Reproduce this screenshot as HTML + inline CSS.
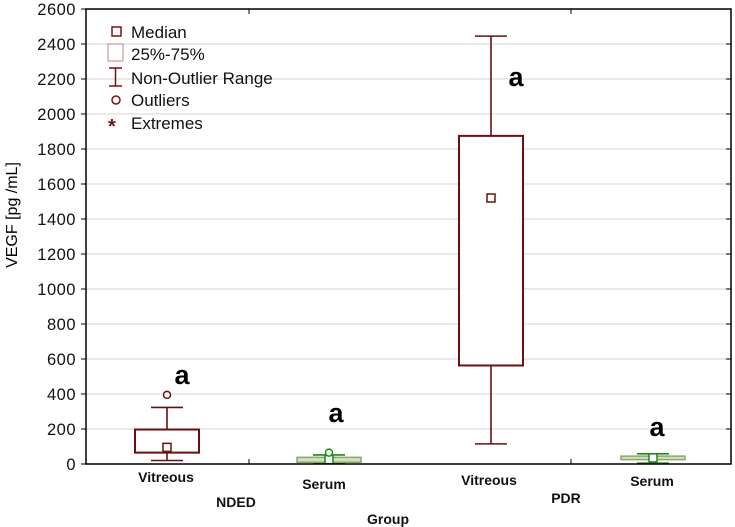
<!DOCTYPE html>
<html><head><meta charset="utf-8"><style>
html,body{margin:0;padding:0;background:#fff;}
svg{display:block;font-family:"Liberation Sans",sans-serif;}
</style></head><body>
<svg id="chart" width="735" height="527" viewBox="0 0 735 527">
<g id="grid"></g>
<g id="yaxis"></g>
<g id="boxes"></g>
<rect x="86" y="9" width="645" height="455" fill="none" stroke="#000" stroke-width="1.5"/>
<line x1="249" y1="464" x2="249" y2="459" stroke="#000"/>
<line x1="571" y1="464" x2="571" y2="459" stroke="#000"/>
<line x1="249" y1="9" x2="249" y2="14" stroke="#000"/>
<line x1="571" y1="9" x2="571" y2="14" stroke="#000"/>
<text transform="translate(17,215) rotate(-90)" text-anchor="middle" font-size="16">VEGF  [pg /mL]</text>
<g font-weight="bold" font-size="14" text-anchor="middle" fill="#111">
<text x="166" y="482">Vitreous</text>
<text x="324" y="489">Serum</text>
<text x="489" y="485">Vitreous</text>
<text x="652" y="486">Serum</text>
<text x="236" y="507">NDED</text>
<text x="566" y="503">PDR</text>
<text x="388" y="524">Group</text>
</g>
<g font-weight="bold" font-size="27" text-anchor="middle" fill="#000">
<text x="182" y="384">a</text>
<text x="336" y="422">a</text>
<text x="516" y="86">a</text>
<text x="657" y="436">a</text>
</g>
<g font-size="17" fill="#111">
<rect x="112" y="27" width="9" height="9" fill="#fff" stroke="#7b1010" stroke-width="1.5"/>
<text x="131" y="38">Median</text>
<rect x="108" y="44" width="15" height="17" fill="#fff" stroke="#c08080" stroke-width="1"/>
<text x="131" y="60">25%-75%</text>
<path d="M109 68H122M115.5 68V86M109 86H122" stroke="#7b1010" stroke-width="1.5" fill="none"/>
<text x="131" y="84">Non-Outlier Range</text>
<circle cx="116" cy="100" r="4" fill="#fff" stroke="#7b1010" stroke-width="1.5"/>
<text x="131" y="106">Outliers</text>
<text x="108" y="133" fill="#7b1010" font-size="20" font-weight="bold">*</text>
<text x="131" y="129">Extremes</text>
</g>
</svg>
<script>
const categories = ["NDED Vitreous","NDED Serum","PDR Vitreous","PDR Serum"];
const whiskerLow = [20, 5, 115, 5];
const q1 = [65, 10, 563, 25];
const median = [95, 25, 1520, 35];
const q3 = [197, 38, 1875, 45];
const whiskerHigh = [323, 52, 2445, 58];
const outliers = [395, 65, null, null];
const yTicks = [0,200,400,600,800,1000,1200,1400,1600,1800,2000,2200,2400,2600];

const NS="http://www.w3.org/2000/svg";
const y = v => 464 - v*(455/2600);
const xc = i => 167 + i*162;
function mk(tag, attrs, parent){const e=document.createElementNS(NS,tag);for(const k in attrs)e.setAttribute(k,attrs[k]);parent.appendChild(e);return e;}
const grid=document.getElementById('grid'), ya=document.getElementById('yaxis'), bx=document.getElementById('boxes');
yTicks.forEach(t=>{
  const g=mk('line',{x1:86,x2:731,y1:y(t),y2:y(t),stroke:'#dcdcdc','stroke-width':1.2},grid);
  
  
  const tk=mk('line',{x1:81,x2:86,y1:y(t),y2:y(t),stroke:'#000'},ya);
  
  
  const tr=mk('line',{x1:726,x2:731,y1:y(t),y2:y(t),stroke:'#000'},ya);
  
  
  const tx=mk('text',{x:76,y:y(t)+6,'text-anchor':'end','font-size':16.5,'letter-spacing':'0.5',fill:'#111'},ya);
  tx.textContent=t;
  
  
});
categories.forEach((c,i)=>{
  const serum = i%2===1;
  const col = serum ? '#1a8a1a' : '#6b0f0f';
  const cx=xc(i), hw=32, cap=16;
  const g=mk('g',{},bx);
  
  
  mk('line',{x1:cx,x2:cx,y1:y(whiskerLow[i]),y2:y(whiskerHigh[i]),stroke:col,'stroke-width':1.6},g);
  mk('line',{x1:cx-cap,x2:cx+cap,y1:y(whiskerLow[i]),y2:y(whiskerLow[i]),stroke:col,'stroke-width':1.6},g);
  mk('line',{x1:cx-cap,x2:cx+cap,y1:y(whiskerHigh[i]),y2:y(whiskerHigh[i]),stroke:col,'stroke-width':1.6},g);
  mk('rect',{x:cx-hw,y:y(q3[i]),width:hw*2,height:Math.max(y(q1[i])-y(q3[i]),1),fill:serum?'#d3e0b8':'#fff',stroke:serum?'#8aa870':col,'stroke-width':serum?1.5:2},g);
  mk('rect',{x:cx-4,y:y(median[i])-4,width:8,height:8,fill:'#fff',stroke:col,'stroke-width':1.5},g);
  if(outliers[i]!==null) mk('circle',{cx:cx,cy:y(outliers[i]),r:3.5,fill:'#fff',stroke:col,'stroke-width':1.5},g);
});
</script>
</body></html>
